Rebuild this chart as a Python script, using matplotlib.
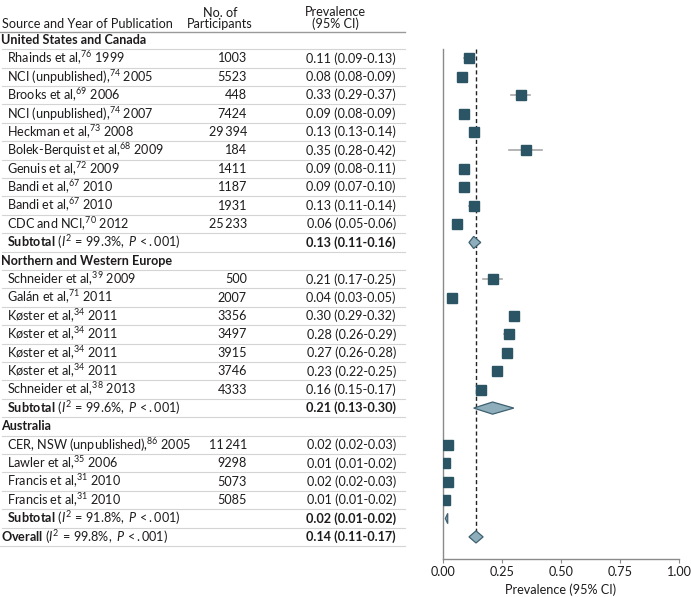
import matplotlib
matplotlib.use("Agg")
import matplotlib.pyplot as plt
import matplotlib.transforms as mtransforms
from matplotlib.patches import Polygon

plt.rcParams['font.family'] = ['Lato', 'DejaVu Sans']
plt.rcParams['mathtext.fontset'] = 'custom'
plt.rcParams['mathtext.rm'] = 'Lato'
plt.rcParams['mathtext.it'] = 'Lato:italic'
plt.rcParams['mathtext.bf'] = 'Lato:bold'
plt.rcParams['mathtext.default'] = 'regular'

# ---- data ----
groups = ["United States and Canada", "Northern and Western Europe", "Australia"]

us_names = ["Rhainds et al", "NCI (unpublished)", "Brooks et al", "NCI (unpublished)", "Heckman et al",
            "Bolek-Berquist et al", "Genuis et al", "Bandi et al", "Bandi et al", "CDC and NCI"]
us_refs = [76, 74, 69, 74, 73, 68, 72, 67, 67, 70]
us_years = [1999, 2005, 2006, 2007, 2008, 2009, 2009, 2010, 2010, 2012]
us_n = [1003, 5523, 448, 7424, 29394, 184, 1411, 1187, 1931, 25233]
us_est = [0.11, 0.08, 0.33, 0.09, 0.13, 0.35, 0.09, 0.09, 0.13, 0.06]
us_lo = [0.09, 0.08, 0.29, 0.08, 0.13, 0.28, 0.08, 0.07, 0.11, 0.05]
us_hi = [0.13, 0.09, 0.37, 0.09, 0.14, 0.42, 0.11, 0.10, 0.14, 0.06]

eu_names = ["Schneider et al", "Galán et al", "Køster et al", "Køster et al", "Køster et al",
            "Køster et al", "Schneider et al"]
eu_refs = [39, 71, 34, 34, 34, 34, 38]
eu_years = [2009, 2011, 2011, 2011, 2011, 2011, 2013]
eu_n = [500, 2007, 3356, 3497, 3915, 3746, 4333]
eu_est = [0.21, 0.04, 0.30, 0.28, 0.27, 0.23, 0.16]
eu_lo = [0.17, 0.03, 0.29, 0.26, 0.26, 0.22, 0.15]
eu_hi = [0.25, 0.05, 0.32, 0.29, 0.28, 0.25, 0.17]

au_names = ["CER, NSW (unpublished)", "Lawler et al", "Francis et al", "Francis et al"]
au_refs = [86, 35, 31, 31]
au_years = [2005, 2006, 2010, 2010]
au_n = [11241, 9298, 5073, 5085]
au_est = [0.02, 0.01, 0.02, 0.01]
au_lo = [0.02, 0.01, 0.02, 0.01]
au_hi = [0.03, 0.02, 0.03, 0.02]

sub_i2 = ["99.3", "99.6", "91.8"]
sub_est = [0.13, 0.21, 0.02]
sub_lo = [0.11, 0.13, 0.01]
sub_hi = [0.16, 0.30, 0.02]

overall_i2 = "99.8"
overall_est, overall_lo, overall_hi = 0.14, 0.11, 0.17

xticks = [0, 0.25, 0.5, 0.75, 1.0]

# ---- style ----
TXT = "#1e1b1c"
SQ = "#2b5564"
DIA_FILL = "#8eaebb"
DIA_EDGE = "#3e6170"
CI_COL = "#a8a8a8"
SEP = "#d4d4d4"
FS = 9.1
W, H = 691, 597

fig = plt.figure(figsize=(W / 100, H / 100), dpi=100)
ax = fig.add_axes([443 / W, 1 - 559 / H, (679 - 443) / W, (559 - 49) / H])
ax.set_xlim(0, 1)
ax.set_ylim(28.2, 0.49)

tr = mtransforms.blended_transform_factory(fig.transFigure, ax.transData)


def px(x):
    return x / W


def fmt_n(n):
    s = str(n)
    if n >= 10000:
        s = s[:-3] + "\u2009" + s[-3:]
    return s


def ci_txt(e, l, h):
    return "%.2f (%.2f-%.2f)" % (e, l, h)


def stat_txt(label, i2):
    return r"$\mathbf{%s}$ $(\mathit{I}^{2}\,{=}\,%s\%%,\ \mathit{P}\,{<}.001)$" % (label, i2)


def sep_line(r, x0=2):
    ax.plot([px(x0), px(405)], [r + 0.5, r + 0.5], color=SEP, lw=0.8,
            transform=tr, clip_on=False)


def diamond(r, e, l, h, hh=0.33):
    ax.add_patch(Polygon([[l, r], [e, r - hh], [h, r], [e, r + hh]], closed=True,
                         facecolor=DIA_FILL, edgecolor=DIA_EDGE, lw=0.9, zorder=3))


# header
ax.text(px(2), -0.88, "Source and Year of Publication", transform=tr, fontsize=FS,
        color=TXT, va="center", ha="left")
ax.text(px(220), -1.17, "No. of\nParticipants", transform=tr, fontsize=FS, color=TXT,
        va="center", ha="center", multialignment="center", linespacing=0.95)
ax.text(px(335), -1.17, "Prevalence\n(95% CI)", transform=tr, fontsize=FS, color=TXT,
        va="center", ha="center", multialignment="center", linespacing=0.95)
ax.plot([px(0), px(405)], [-0.43, -0.43], color="#9a9a9a", lw=1.0, transform=tr, clip_on=False)

all_groups = [
    (us_names, us_refs, us_years, us_n, us_est, us_lo, us_hi),
    (eu_names, eu_refs, eu_years, eu_n, eu_est, eu_lo, eu_hi),
    (au_names, au_refs, au_years, au_n, au_est, au_lo, au_hi),
]

r = 0
for g, (names, refs, years, ns, est, lo, hi) in enumerate(all_groups):
    ax.text(px(1), r, groups[g], transform=tr, fontsize=FS, color=TXT, va="center",
            ha="left", fontweight="bold")
    sep_line(r)
    r += 1
    for i in range(len(names)):
        ax.text(px(7), r, "%s,$^{%d}$ %d" % (names[i], refs[i], years[i]), transform=tr,
                fontsize=FS, color=TXT, va="center", ha="left")
        ax.text(px(247), r, fmt_n(ns[i]), transform=tr, fontsize=FS, color=TXT,
                va="center", ha="right")
        ax.text(px(396), r, ci_txt(est[i], lo[i], hi[i]), transform=tr, fontsize=FS,
                color=TXT, va="center", ha="right")
        sep_line(r)
        ax.plot([lo[i], hi[i]], [r, r], color=CI_COL, lw=1.2, zorder=2)
        ax.plot(est[i], r, "s", color=SQ, markersize=7.6, zorder=3)
        r += 1
    ax.text(px(7), r, stat_txt("Subtotal", sub_i2[g]),
            transform=tr, fontsize=FS, color=TXT, va="center", ha="left")
    ax.text(px(396), r, ci_txt(sub_est[g], sub_lo[g], sub_hi[g]), transform=tr, fontsize=FS,
            color=TXT, va="center", ha="right", fontweight="bold")
    sep_line(r)
    diamond(r, sub_est[g], sub_lo[g], sub_hi[g], hh=0.33 if g < 2 else 0.28)
    r += 1

ax.text(px(1), r, stat_txt("Overall", overall_i2),
        transform=tr, fontsize=FS, color=TXT, va="center", ha="left")
ax.text(px(396), r, ci_txt(overall_est, overall_lo, overall_hi), transform=tr, fontsize=FS,
        color=TXT, va="center", ha="right", fontweight="bold")
sep_line(r, x0=0)
diamond(r, overall_est, overall_lo, overall_hi)

# reference line at overall estimate
ax.plot([overall_est, overall_est], [0.49, r - 0.33], color="#222222", lw=1.0,
        dashes=(3, 2), zorder=1)

for s in ["top", "right"]:
    ax.spines[s].set_visible(False)
for s in ["left", "bottom"]:
    ax.spines[s].set_color("#8a8a8a")
    ax.spines[s].set_linewidth(1.0)
ax.set_yticks([])
ax.set_xticks(xticks)
ax.set_xticklabels(["%.2f" % t for t in xticks])
ax.tick_params(axis="x", colors="#8a8a8a", labelcolor=TXT, labelsize=FS, length=3, pad=2)
ax.set_xlabel("Prevalence (95% CI)", fontsize=FS, color=TXT, labelpad=4)

fig.savefig("out.png", dpi=100)
